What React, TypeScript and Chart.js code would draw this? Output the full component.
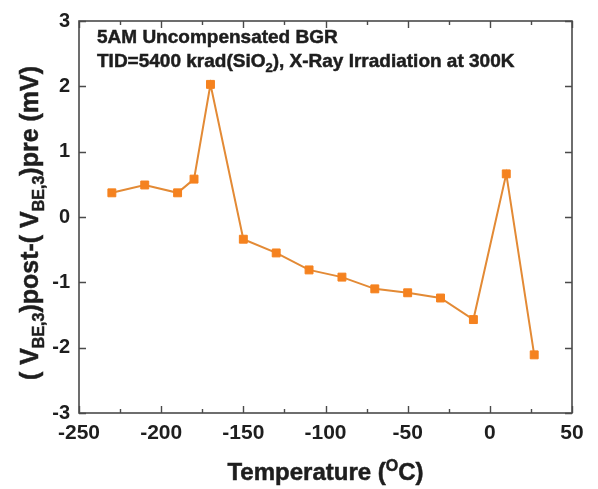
import React, { useEffect, useRef } from "react";
import { Chart, registerables } from "chart.js";

Chart.register(...registerables);

// Temperature sweep (°C) and the V_BE,3 shift after irradiation (mV)
const temperatures = [-230, -210, -190, -180, -170, -150, -130, -110, -90, -70, -50, -30, -10, 10, 27];
const vbeShift = [0.37, 0.49, 0.37, 0.58, 2.03, -0.34, -0.55, -0.81, -0.92, -1.1, -1.16, -1.24, -1.57, 0.66, -2.11];

const xTicks = [-250, -200, -150, -100, -50, 0, 50];
const yTicks = [-3, -2, -1, 0, 1, 2, 3];

const FONT = "'Liberation Sans', Arial, Helvetica, sans-serif";
const INK = "#1e1e1e";
const AXIS = "#4a4a4a";
const ORANGE = "#F5821F";
const LINE = "#E38A35";

type Part = { text: string; size: number; dy?: number };

function partsWidth(ctx: CanvasRenderingContext2D, parts: Part[]) {
  let w = 0;
  for (const p of parts) {
    ctx.font = `bold ${p.size}px ${FONT}`;
    w += ctx.measureText(p.text).width;
  }
  return w;
}

function drawParts(ctx: CanvasRenderingContext2D, parts: Part[], x: number, y: number) {
  let cx = x;
  ctx.textBaseline = "alphabetic";
  ctx.textAlign = "left";
  ctx.lineWidth = 0.5;
  ctx.strokeStyle = INK;
  for (const p of parts) {
    ctx.font = `bold ${p.size}px ${FONT}`;
    ctx.fillText(p.text, cx, y + (p.dy || 0));
    ctx.strokeText(p.text, cx, y + (p.dy || 0));
    cx += ctx.measureText(p.text).width;
  }
}

const frameAndLabels = {
  id: "frameAndLabels",
  afterDraw(chart: any) {
    const { ctx, chartArea } = chart;
    const { left, right, top, bottom } = chartArea;
    const xs = chart.scales.x;
    const ys = chart.scales.y;
    ctx.save();

    // plot frame
    ctx.strokeStyle = AXIS;
    ctx.lineWidth = 1.6;
    ctx.strokeRect(left, top, right - left, bottom - top);

    // inward ticks: x majors every 50, minors every 25
    ctx.lineWidth = 1.4;
    ctx.beginPath();
    for (let v = xs.min; v <= xs.max; v += 25) {
      const px = Math.round(xs.getPixelForValue(v)) + 0.5;
      const len = v % 50 === 0 ? 7 : 4;
      ctx.moveTo(px, bottom);
      ctx.lineTo(px, bottom - len);
      ctx.moveTo(px, top);
      ctx.lineTo(px, top + len);
    }
    for (let v = ys.min; v <= ys.max; v += 1) {
      const py = Math.round(ys.getPixelForValue(v)) + 0.5;
      ctx.moveTo(left, py);
      ctx.lineTo(left + 7, py);
      ctx.moveTo(right, py);
      ctx.lineTo(right - 7, py);
    }
    ctx.stroke();

    ctx.fillStyle = INK;

    // in-plot caption
    drawParts(ctx, [{ text: "5AM Uncompensated BGR", size: 19 }], 97, 43);
    drawParts(
      ctx,
      [
        { text: "TID=5400 krad(SiO", size: 19 },
        { text: "2", size: 13, dy: 5 },
        { text: "), X-Ray Irradiation at 300K", size: 19 },
      ],
      97,
      67
    );

    // x-axis title
    const xt: Part[] = [
      { text: "Temperature (", size: 24 },
      { text: "O", size: 16, dy: -9 },
      { text: "C)", size: 24 },
    ];
    const xw = partsWidth(ctx, xt);
    drawParts(ctx, xt, (left + right) / 2 - xw / 2, 480);

    // y-axis title, rotated
    const yt: Part[] = [
      { text: "( V", size: 25 },
      { text: "BE,3", size: 16, dy: 6 },
      { text: ")post-( V", size: 25 },
      { text: "BE,3", size: 16, dy: 6 },
      { text: ")pre (mV)", size: 25 },
    ];
    const yw = partsWidth(ctx, yt);
    ctx.translate(38, 223);
    ctx.rotate(-Math.PI / 2);
    drawParts(ctx, yt, -yw / 2, 0);

    ctx.restore();
  },
};

export default function App() {
  const canvasRef = useRef<HTMLCanvasElement | null>(null);

  useEffect(() => {
    const canvas = canvasRef.current;
    if (!canvas) return;
    const chart = new Chart(canvas, {
      type: "scatter",
      data: {
        datasets: [
          {
            data: temperatures.map((t, i) => ({ x: t, y: vbeShift[i] })),
            showLine: true,
            borderColor: LINE,
            borderWidth: 2,
            backgroundColor: ORANGE,
            pointStyle: "rect",
            pointRadius: 5.6,
            pointBorderColor: ORANGE,
            pointBorderWidth: 1,
          },
        ],
      },
      options: {
        responsive: false,
        animation: false,
        events: [],
        layout: { autoPadding: false, padding: { left: 0, right: 26, top: 11, bottom: 0 } },
        plugins: { legend: { display: false }, tooltip: { enabled: false }, title: { display: false } },
        scales: {
          x: {
            type: "linear",
            min: -250,
            max: 50,
            afterFit: (s: any) => {
              s.height = 76;
            },
            afterBuildTicks: (s: any) => {
              s.ticks = xTicks.map((v) => ({ value: v }));
            },
            grid: { display: false, drawTicks: false },
            border: { display: false },
            ticks: {
              padding: 8,
              maxRotation: 0,
              autoSkip: false,
              color: INK,
              font: { family: FONT, size: 21, weight: "bold" },
            },
          },
          y: {
            min: -3,
            max: 3,
            afterFit: (s: any) => {
              s.width = 79;
            },
            afterBuildTicks: (s: any) => {
              s.ticks = yTicks.map((v) => ({ value: v }));
            },
            grid: { display: false, drawTicks: false },
            border: { display: false },
            ticks: {
              padding: 9,
              autoSkip: false,
              color: INK,
              font: { family: FONT, size: 20, weight: "bold" },
            },
          },
        },
      },
      plugins: [frameAndLabels],
    });
    return () => chart.destroy();
  }, []);

  return (
    <div style={{ position: "absolute", left: 0, top: 0, width: 598, height: 489, background: "#fff" }}>
      <canvas ref={canvasRef} width={598} height={489} style={{ display: "block" }} />
    </div>
  );
}
